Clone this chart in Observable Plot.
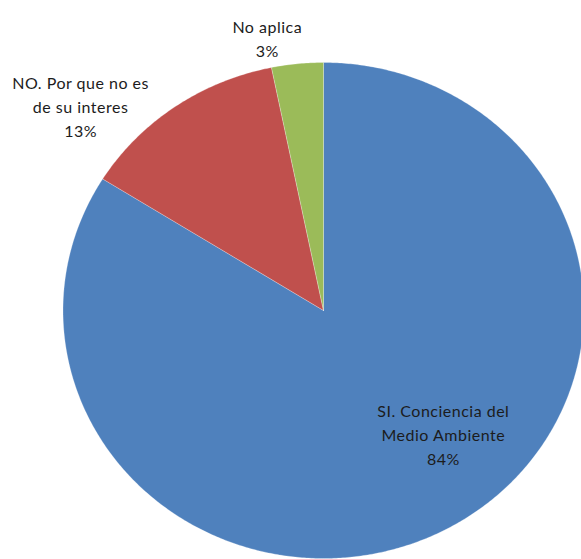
<!DOCTYPE html>
<html>
<head>
<meta charset="utf-8">
<script src="https://cdn.jsdelivr.net/npm/d3@7"></script>
<script src="https://cdn.jsdelivr.net/npm/@observablehq/plot@0.6"></script>
<style>
  html, body { margin: 0; padding: 0; background: #fff; overflow: hidden; }
</style>
</head>
<body>
<div id="chart"></div>
<script>
// Data
const categories = ["SI. Conciencia del Medio Ambiente", "NO. Por que no es de su interes", "No aplica"];
const labelText = ["SI. Conciencia del\nMedio Ambiente", "NO. Por que no es\nde su interes", "No aplica"];
const values = [83.9, 12.9, 3.2];
const colors = ["#4F81BD", "#C0504D", "#9BBB59"];

// Label placement (polar, in pie-radius units; angle clockwise from 12 o'clock, degrees)
const labelRadius = [0.677, 1.247, 1.121];
const labelAngle = [137.2, 311.6, 348.9];

const total = d3.sum(values);
const slices = [];
let acc = 0;
values.forEach((v, i) => {
  const a0 = acc / total * 2 * Math.PI;
  acc += v;
  const a1 = acc / total * 2 * Math.PI;
  const n = Math.max(2, Math.ceil((a1 - a0) / (Math.PI / 360)));
  slices.push({cat: categories[i], x: 0, y: 0});
  for (let k = 0; k <= n; k++) {
    const a = a0 + (a1 - a0) * k / n;
    slices.push({cat: categories[i], x: Math.sin(a), y: Math.cos(a)});
  }
  slices.push({cat: categories[i], x: 0, y: 0});
});

const labels = values.map((v, i) => {
  const a = labelAngle[i] * Math.PI / 180;
  return {
    x: labelRadius[i] * Math.sin(a),
    y: labelRadius[i] * Math.cos(a),
    text: labelText[i] + "\n" + Math.round(v / total * 100) + "%"
  };
});

const chart = Plot.plot({
  width: 581,
  height: 559,
  marginLeft: 62.5,
  marginRight: 0,
  marginTop: 62,
  marginBottom: 1,
  x: {domain: [-1, 258 / 260.5], axis: null},
  y: {domain: [-1, 1], axis: null},
  color: {domain: categories, range: colors},
  style: {fontFamily: "Lato, sans-serif", background: "#fff", letterSpacing: "0.5px"},
  marks: [
    Plot.line(slices, {x: "x", y: "y", z: "cat", fill: "cat", stroke: "#ffffff", strokeWidth: 0.5, strokeOpacity: 0.5, curve: "linear"}),
    Plot.text(labels, {x: "x", y: "y", text: "text", fontSize: 16, lineHeight: 1.5, lineAnchor: "middle", fill: "#1c1c1c", textAnchor: "middle"})
  ]
});
document.getElementById("chart").appendChild(chart);
</script>
</body>
</html>
